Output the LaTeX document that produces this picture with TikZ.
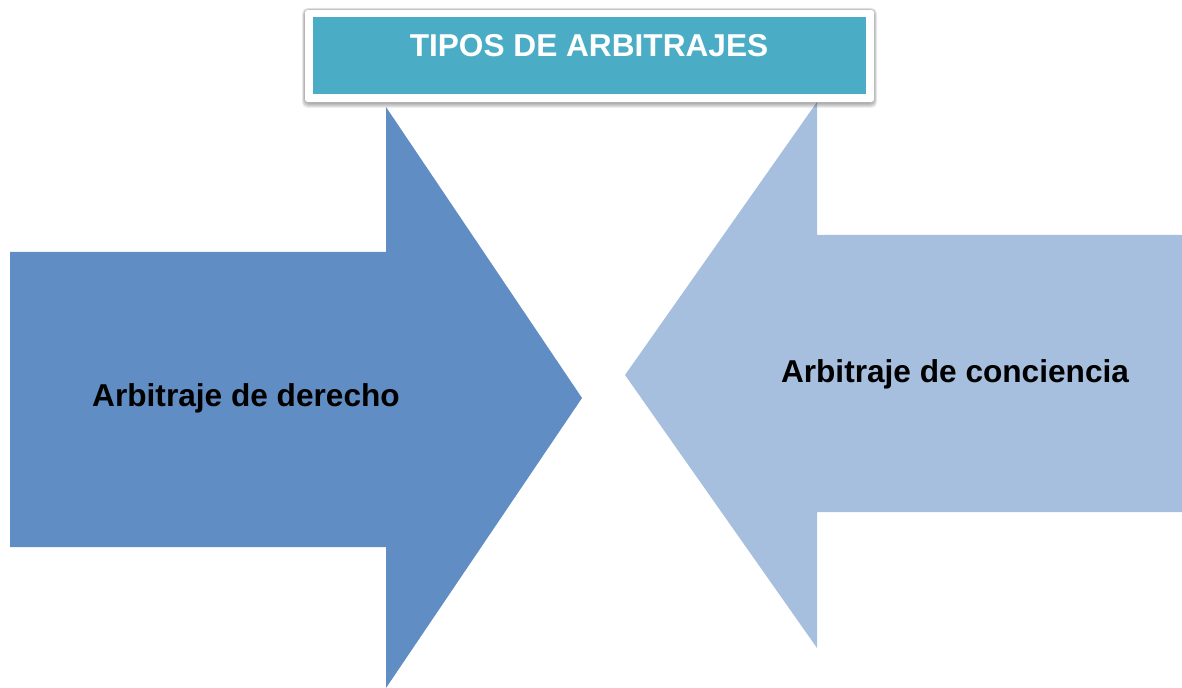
\documentclass[tikz,border=0pt]{standalone}
\usepackage{fontspec}
\setmainfont{Liberation Sans}
\definecolor{arrowblue}{RGB}{96,141,195}
\definecolor{arrowlight}{RGB}{167,191,222}
\definecolor{titleteal}{RGB}{75,172,198}

\begin{document}
\begin{tikzpicture}[x=0.02cm,y=-0.02cm,
    arrowtext/.style={font=\bfseries\fontsize{18}{21}\selectfont, anchor=base, inner sep=0pt}]
    \useasboundingbox (0,0) rectangle (1182,688);
    % Arrows
    \fill[arrowblue] (10,252) -- (386,252) -- (386,107) -- (582,398) -- (386,688) -- (386,547) -- (10,547) -- cycle;
    \fill[arrowlight] (1182,235) -- (817,235) -- (817,102) -- (625,375) -- (817,648) -- (817,512) -- (1182,512) -- cycle;
    
    % Title box (soft shadow)
    \foreach \s in {5,4,3,2,1}
        \fill[black, opacity=0.07, rounded corners=3pt] (305-\s*0.6,10-\s*0.4) rectangle (874+\s*0.6,103+\s);
    \fill[white, rounded corners=1.5pt] (305,10) rectangle (874,102);
    \fill[titleteal] (313,17) rectangle (866,94);
    
    \node[arrowtext, text=white] (titulo) at (589,57) {TIPOS DE ARBITRAJES};
    \node[arrowtext] (derecho) at (246,407) {Arbitraje de derecho};
    \node[arrowtext] (conciencia) at (955,383) {Arbitraje de conciencia};
\end{tikzpicture}
\end{document}
